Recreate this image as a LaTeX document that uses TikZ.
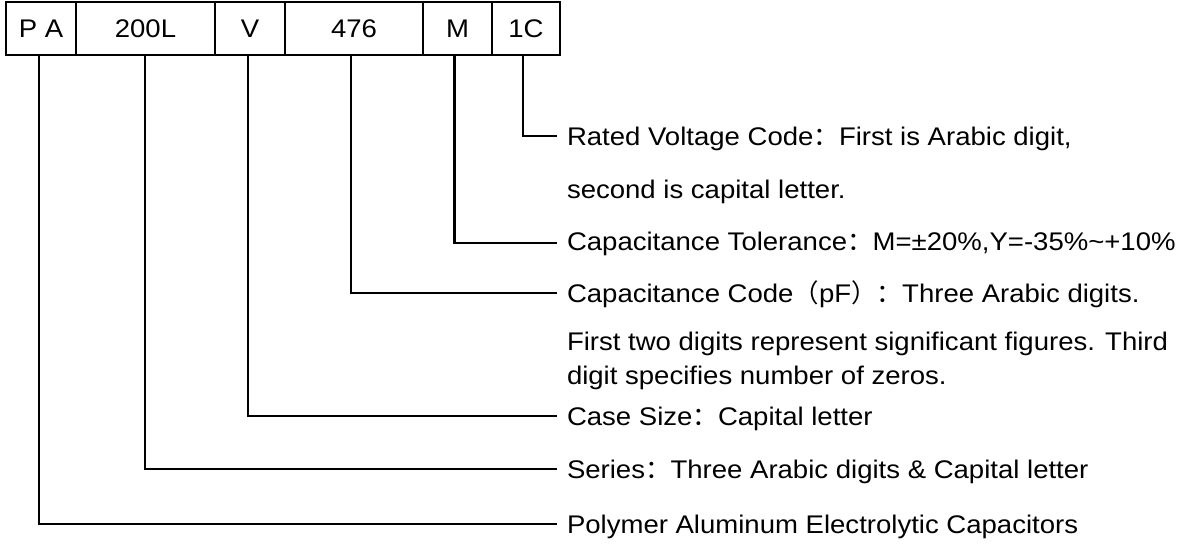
\documentclass[tikz,border=0pt]{standalone}
\usepackage{fontspec}
\setmainfont{Liberation Sans}[FakeStretch=1.08]
\newfontfamily\cjk{Noto Sans CJK SC}
\newcommand{\fw}[1]{{\cjk #1}}
\begin{document}
\begin{tikzpicture}[x=1pt,y=-1pt,
  every node/.style={inner sep=0pt, outer sep=0pt, font=\fontsize{25.5}{30}\selectfont},
  cell/.style={draw, line width=2.8pt, minimum height=53pt, anchor=center},
  lbl/.style={anchor=base west},
  conn/.style={line width=2.8pt},
  thinconn/.style={line width=1.3pt}]
\useasboundingbox (0,0) rectangle (1199,544);
% cells
\node[cell, minimum width=70pt]  (c1) at (41,28.5)   {P A};
\node[cell, minimum width=139pt] (c2) at (145.5,28.5) {200L};
\node[cell, minimum width=70pt]  (c3) at (250,28.5)  {V};
\node[cell, minimum width=138pt] (c4) at (354,28.5)  {476};
\node[cell, minimum width=69pt]  (c5) at (457.5,28.5) {M};
\node[cell, minimum width=68pt]  (c6) at (526,28.5)  {1C};
% connector ends
\coordinate (e6) at (557,136);
\coordinate (e5) at (557,243);
\coordinate (e4) at (557,293);
\coordinate (e3) at (557,416);
\coordinate (e2) at (557,469);
\coordinate (e1) at (557,524);
% labels
\node[lbl] (t6a) at (567,145) {Rated Voltage Code\fw{：}First is Arabic digit,};
\node[lbl] (t6b) at (567,198) {second is capital letter.};
\node[lbl] (t5)  at (567,250) {Capacitance Tolerance\fw{：}M=±20\%,Y=-35\%\textasciitilde+10\%};
\node[lbl] (t4a) at (567,302) {Capacitance Code\fw{（}pF\fw{）：}Three Arabic digits.};
\node[lbl] (t4b) at (567,350) {First two digits represent significant figures. Third};
\node[lbl] (t4c) at (567,384) {digit specifies number of zeros.};
\node[lbl] (t3)  at (567,425) {Case Size\fw{：}Capital letter};
\node[lbl] (t2)  at (567,478) {Series\fw{：}Three Arabic digits \& Capital letter};
\node[lbl] (t1)  at (567,533) {Polymer Aluminum Electrolytic Capacitors};
% connectors
\draw[conn] ([xshift=-3pt]c6.south) |- (e6);
\draw[conn] ([xshift=-3pt]c5.south) |- (e5);
\draw[thinconn] ([xshift=-3pt]c4.south) |- (e4);
\draw[conn] (e4) -- ([xshift=-3pt]c4.south |- e4);
\draw[conn] ([xshift=-2pt]c3.south) |- (e3);
\draw[conn] ([xshift=-0.5pt]c2.south) |- (e2);
\draw[conn] ([xshift=-2pt]c1.south) |- (e1);
\end{tikzpicture}
\end{document}
